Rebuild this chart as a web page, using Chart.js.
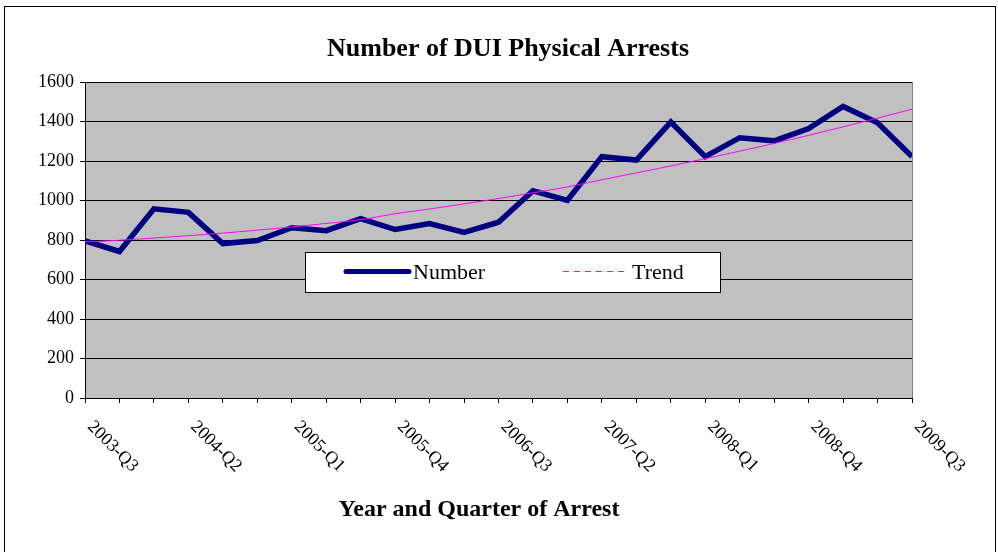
<!DOCTYPE html>
<html>
<head>
<meta charset="utf-8">
<title>Number of DUI Physical Arrests</title>
<script src="https://cdn.jsdelivr.net/npm/chart.js@4.4.1/dist/chart.umd.min.js"></script>
<style>
	body { margin:0; background:#fff; }
	#wrap { width:998px; height:552px; }
</style>
</head>
<body>
<div id="wrap"><canvas id="duiChart" width="998" height="552"></canvas></div>
<script>
// quarters on the x axis
var quarters = ['2003-Q3','2003-Q4','2004-Q1','2004-Q2','2004-Q3','2004-Q4',
	'2005-Q1','2005-Q2','2005-Q3','2005-Q4','2006-Q1','2006-Q2','2006-Q3','2006-Q4',
	'2007-Q1','2007-Q2','2007-Q3','2007-Q4','2008-Q1','2008-Q2','2008-Q3','2008-Q4',
	'2009-Q1','2009-Q2','2009-Q3'];

// arrests per quarter
var arrests = [795, 742, 958, 940, 782, 797, 862, 847, 908, 853, 883, 839, 890,
	1049, 1001, 1222, 1205, 1397, 1222, 1318, 1302, 1364, 1476, 1394, 1222];

// trend line values
var trend = [790, 799, 810, 822, 835, 850, 866, 884, 903, 933, 957, 983, 1010,
	1039, 1069, 1105, 1140, 1175, 1212, 1250, 1289, 1330, 1373, 1417, 1462];

var yTicks = [0, 200, 400, 600, 800, 1000, 1200, 1400, 1600];

var serif = "'Liberation Serif', 'Times New Roman', serif";

// gray plot area, frame, custom legend and labels
var decoPlugin = {
	id: 'deco',
	beforeDraw: function(chart){
		var ctx = chart.ctx, a = chart.chartArea;
		ctx.save();
		ctx.fillStyle = '#ffffff';
		ctx.fillRect(0, 0, chart.width, chart.height);
		ctx.fillStyle = '#c0c0c0';
		ctx.fillRect(a.left, a.top, a.right - a.left, a.bottom - a.top);
		// outer frame
		ctx.strokeStyle = '#000';
		ctx.lineWidth = 1;
		ctx.strokeRect(4.5, 6.5, 991, 560);
		ctx.restore();
	},
	beforeDatasetsDraw: function(chart){
		var ctx = chart.ctx, a = chart.chartArea;
		ctx.save();
		ctx.strokeStyle = '#808080';
		ctx.lineWidth = 1;
		ctx.beginPath();
		ctx.moveTo(a.right + 0.5, a.top);
		ctx.lineTo(a.right + 0.5, a.bottom);
		ctx.stroke();
		ctx.restore();
	},
	afterDraw: function(chart){
		var ctx = chart.ctx, xs = chart.scales.x;
		var ds = chart.data.datasets;
		ctx.save();

		// legend box
		ctx.fillStyle = '#fff';
		ctx.fillRect(305, 252, 415, 40);
		ctx.strokeStyle = '#000';
		ctx.lineWidth = 1;
		ctx.strokeRect(305.5, 252.5, 415, 40);

		ctx.lineCap = 'round';
		ctx.strokeStyle = ds[0].borderColor;
		ctx.lineWidth = 5;
		ctx.beginPath();
		ctx.moveTo(346, 271.5);
		ctx.lineTo(409, 271.5);
		ctx.stroke();

		ctx.lineCap = 'butt';
		ctx.strokeStyle = ds[1].borderColor;
		ctx.lineWidth = 1;
		ctx.setLineDash([6, 5]);
		ctx.beginPath();
		ctx.moveTo(563, 271.5);
		ctx.lineTo(628, 271.5);
		ctx.stroke();
		ctx.setLineDash([]);

		ctx.fillStyle = '#000';
		ctx.font = '22px ' + serif;
		ctx.textAlign = 'left';
		ctx.textBaseline = 'middle';
		ctx.fillText(ds[0].label, 413, 273);
		ctx.fillText(ds[1].label, 632, 273);

		// titles
		ctx.textAlign = 'center';
		ctx.font = 'bold 26px ' + serif;
		ctx.fillText('Number of DUI Physical Arrests', 508, 49);
		ctx.font = 'bold 24px ' + serif;
		ctx.fillText('Year and Quarter of Arrest', 479, 510);

		// slanted quarter labels, every third one
		ctx.font = '18px ' + serif;
		ctx.textAlign = 'left';
		ctx.textBaseline = 'middle';
		for (var i = 0; i < quarters.length; i += 3) {
			var px = xs.getPixelForValue(i);
			ctx.save();
			ctx.translate(px + 5, xs.top + 26);
			ctx.rotate(Math.PI / 4);
			ctx.fillText(quarters[i], 0, 0);
			ctx.restore();
		}
		ctx.restore();
	}
};

var config = {
	type: 'line',
	data: {
		labels: quarters,
		datasets: [{
			label: 'Number',
			data: arrests,
			borderColor: '#000080',
			borderWidth: 5.5,
			pointRadius: 0,
			tension: 0,
			clip: 0,
			order: 2
		}, {
			label: 'Trend',
			data: trend,
			borderColor: '#ff00ff',
			borderWidth: 1,
			pointRadius: 0,
			tension: 0.4,
			clip: 0,
			order: 1
		}]
	},
	options: {
		responsive: false,
		animation: false,
		layout: { padding: { top: 82, right: 86, left: 0, bottom: 0 } },
		plugins: {
			legend: { display: false },
			title: { display: false },
			tooltip: { enabled: false }
		},
		scales: {
			x: {
				offset: false,
				grid: { drawOnChartArea: false, color: '#000', tickLength: 5 },
				border: { color: '#000' },
				ticks: { display: false },
				afterFit: function(s){ s.height = 154; }
			},
			y: {
				min: 0,
				max: 1600,
				afterBuildTicks: function(s){
					s.ticks = yTicks.map(function(v){ return { value: v }; });
				},
				grid: { color: '#000', tickLength: 5 },
				border: { color: '#000' },
				ticks: {
					color: '#000',
					padding: 6,
					font: { family: serif, size: 18 },
					callback: function(v){ return String(v); }
				},
				afterFit: function(s){ s.width = 85; }
			}
		}
	},
	plugins: [decoPlugin]
};

var chart = new Chart(document.getElementById('duiChart'), config);
</script>
</body>
</html>
